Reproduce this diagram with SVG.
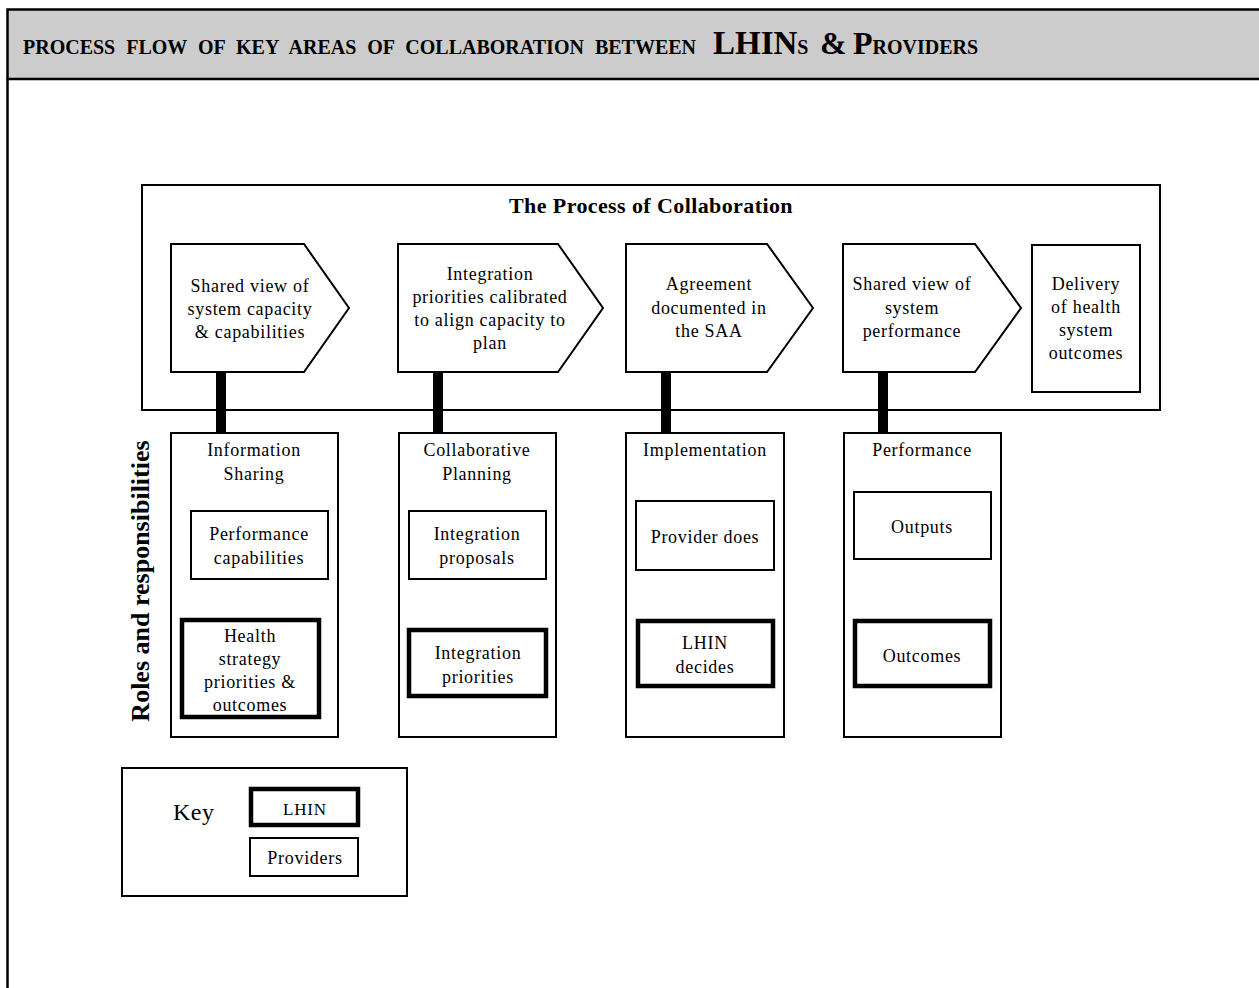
<svg xmlns="http://www.w3.org/2000/svg" width="1259" height="988" viewBox="0 0 1259 988">
<style>
  text { font-family: "Liberation Serif", "Times New Roman", serif; fill: #000; }
  .t { font-size: 18px; letter-spacing: 0.7px; text-anchor: middle; }
  .thin { fill: #fff; stroke: #000; stroke-width: 2; }
  .thick { fill: #fff; stroke: #000; stroke-width: 4.5; }
  .frame { fill: none; stroke: #000; stroke-width: 2; }
  .bar { fill: #000; }
  .ttl { font-weight: bold; }
</style>
<rect x="0" y="0" width="1259" height="988" fill="#fff"/>

<g id="page">
  <rect x="7.5" y="9.5" width="1270" height="69.5" fill="#cccccc" stroke="#000" stroke-width="2.5"/>
  <line x1="7.5" y1="79" x2="7.5" y2="995" stroke="#000" stroke-width="2.5"/>
  <text class="ttl" y="54"><tspan x="23" font-size="20" word-spacing="6">PROCESS FLOW OF KEY AREAS OF COLLABORATION BETWEEN</tspan><tspan x="713" font-size="33">LHIN</tspan><tspan font-size="20">S</tspan><tspan x="820" font-size="32">&amp;</tspan><tspan x="853" font-size="32">P</tspan><tspan font-size="20">ROVIDERS</tspan></text>
</g>

<g id="process-box">
  <rect class="frame" x="142" y="185" width="1018" height="225"/>
  <text class="ttl" x="651" y="213" font-size="22" letter-spacing="0.4" text-anchor="middle">The Process of Collaboration</text>
</g>

<g id="connectors">
  <rect class="bar" x="216" y="372" width="10" height="61"/>
  <rect class="bar" x="433" y="372" width="10" height="61"/>
  <rect class="bar" x="661" y="372" width="10" height="61"/>
  <rect class="bar" x="878" y="372" width="10" height="61"/>
</g>

<g id="step1">
  <polygon class="thin" points="171,244 304,244 349,308 304,372 171,372"/>
  <text class="t" x="250" y="292">Shared view of</text>
  <text class="t" x="250" y="315">system capacity</text>
  <text class="t" x="250" y="338">&amp; capabilities</text>
</g>
<g id="step2">
  <polygon class="thin" points="398,244 558,244 603,308 558,372 398,372"/>
  <text class="t" x="490" y="280">Integration</text>
  <text class="t" x="490" y="303">priorities calibrated</text>
  <text class="t" x="490" y="326">to align capacity to</text>
  <text class="t" x="490" y="349">plan</text>
</g>
<g id="step3">
  <polygon class="thin" points="626,244 767,244 813,308 767,372 626,372"/>
  <text class="t" x="709" y="290">Agreement</text>
  <text class="t" x="709" y="314">documented in</text>
  <text class="t" x="709" y="337">the SAA</text>
</g>
<g id="step4">
  <polygon class="thin" points="843,244 975,244 1021,308 975,372 843,372"/>
  <text class="t" x="912" y="290">Shared view of</text>
  <text class="t" x="912" y="314">system</text>
  <text class="t" x="912" y="337">performance</text>
</g>
<g id="step5">
  <rect class="thin" x="1032" y="245" width="108" height="147"/>
  <text class="t" x="1086" y="290">Delivery</text>
  <text class="t" x="1086" y="313">of health</text>
  <text class="t" x="1086" y="336">system</text>
  <text class="t" x="1086" y="359">outcomes</text>
</g>

<g id="roles-label">
  <text class="ttl" transform="translate(149,581) rotate(-90)" font-size="26" text-anchor="middle">Roles and responsibilities</text>
</g>

<g id="info-sharing">
  <rect class="thin" x="171" y="433" width="167" height="304"/>
  <text class="t" x="254" y="456">Information</text>
  <text class="t" x="254" y="480">Sharing</text>
  <rect class="thin" x="191" y="511" width="137" height="68"/>
  <text class="t" x="259" y="540">Performance</text>
  <text class="t" x="259" y="564">capabilities</text>
  <rect class="thick" x="182" y="620" width="137" height="97"/>
  <text class="t" x="250" y="642">Health</text>
  <text class="t" x="250" y="665">strategy</text>
  <text class="t" x="250" y="688">priorities &amp;</text>
  <text class="t" x="250" y="711">outcomes</text>
</g>

<g id="collab-planning">
  <rect class="thin" x="399" y="433" width="157" height="304"/>
  <text class="t" x="477" y="456">Collaborative</text>
  <text class="t" x="477" y="480">Planning</text>
  <rect class="thin" x="409" y="511" width="137" height="68"/>
  <text class="t" x="477" y="540">Integration</text>
  <text class="t" x="477" y="564">proposals</text>
  <rect class="thick" x="409" y="630" width="137" height="66"/>
  <text class="t" x="478" y="659">Integration</text>
  <text class="t" x="478" y="683">priorities</text>
</g>

<g id="implementation">
  <rect class="thin" x="626" y="433" width="158" height="304"/>
  <text class="t" x="705" y="456">Implementation</text>
  <rect class="thin" x="636" y="501" width="138" height="69"/>
  <text class="t" x="705" y="543">Provider does</text>
  <rect class="thick" x="638" y="621" width="135" height="65"/>
  <text class="t" x="705" y="649">LHIN</text>
  <text class="t" x="705" y="673">decides</text>
</g>

<g id="performance">
  <rect class="thin" x="844" y="433" width="157" height="304"/>
  <text class="t" x="922" y="456">Performance</text>
  <rect class="thin" x="854" y="492" width="137" height="67"/>
  <text class="t" x="922" y="533">Outputs</text>
  <rect class="thick" x="855" y="621" width="135" height="65"/>
  <text class="t" x="922" y="662">Outcomes</text>
</g>

<g id="key">
  <rect class="thin" x="122" y="768" width="285" height="128"/>
  <text x="173" y="820" font-size="24" letter-spacing="0.5">Key</text>
  <rect class="thick" x="251" y="789" width="107" height="36"/>
  <text x="305" y="815" font-size="17" letter-spacing="0.8" text-anchor="middle">LHIN</text>
  <rect class="thin" x="250" y="838" width="108" height="38"/>
  <text class="t" x="305" y="864">Providers</text>
</g>
</svg>
